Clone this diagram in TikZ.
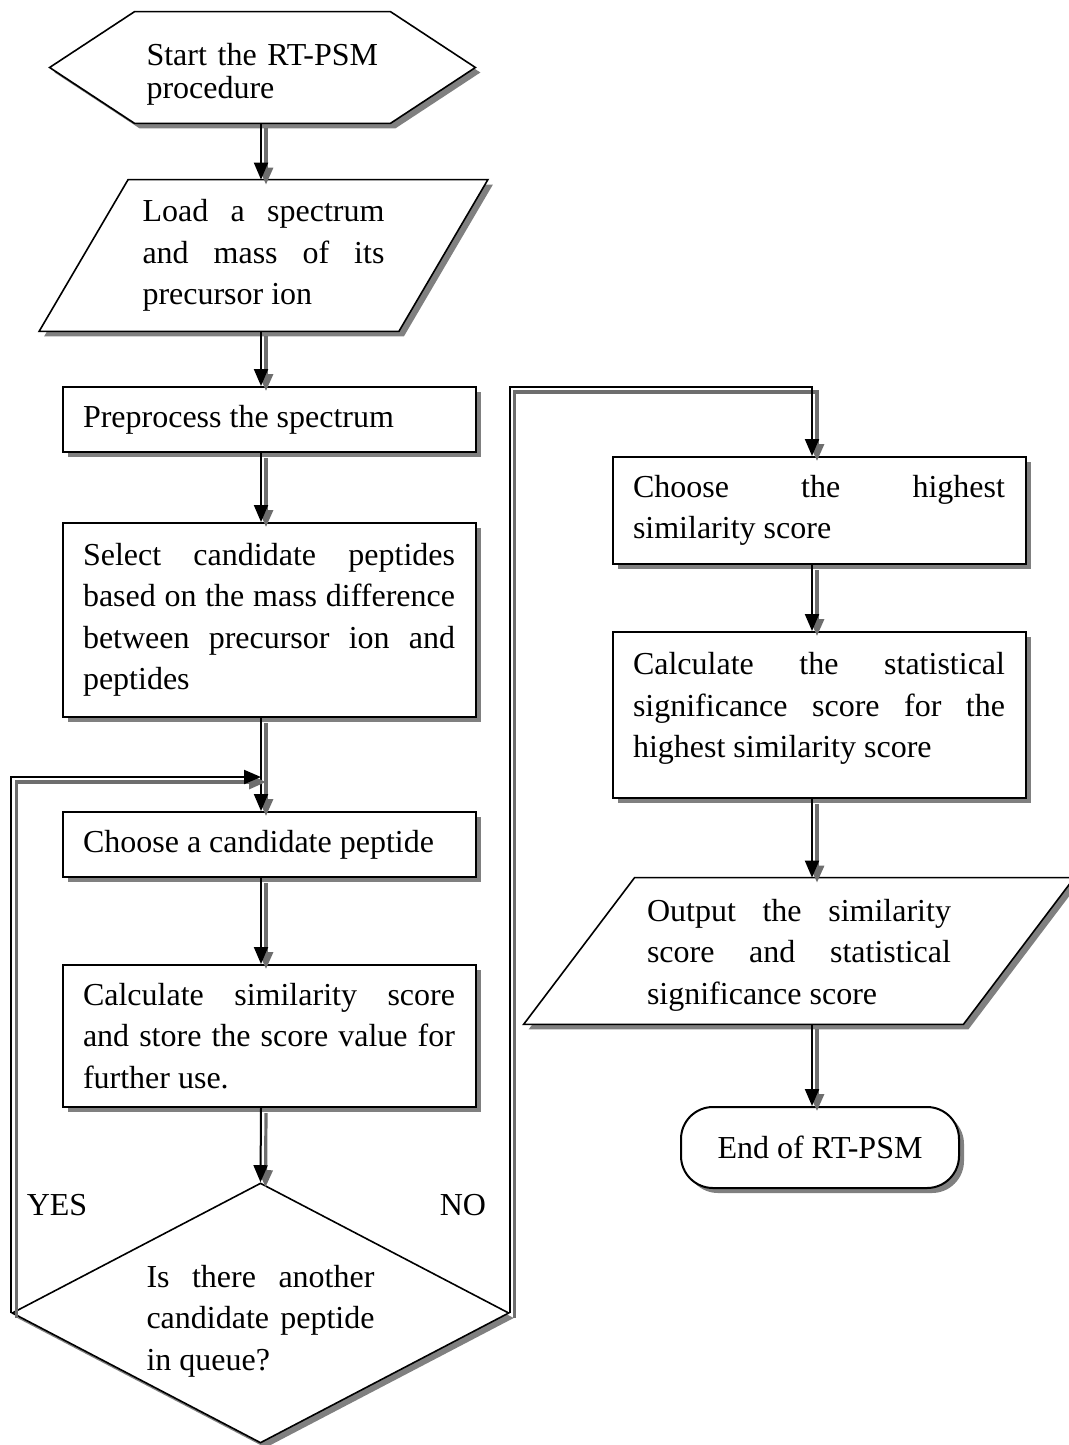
\documentclass[tikz,border=0pt]{standalone}
\usepackage{fontspec}
\setmainfont{Liberation Serif}
\usetikzlibrary{arrows.meta, calc, backgrounds, shadows, shapes.geometric}
\definecolor{flowLine}{HTML}{000000}
\definecolor{flowShade}{HTML}{808080}
\definecolor{flowTrail}{HTML}{6E6E6E}
\hyphenpenalty=10000
\exhyphenpenalty=10000
\tolerance=10000
\hbadness=10000
\tikzset{
  flowfig/.style={
    x=0.5pt, y=-0.5pt,
    every node/.append style={font=\fontsize{16}{20.75}\selectfont},
    >={Triangle[length=8.5pt, width=7pt]},
  },
  boxshadow/.style={drop shadow={shadow xshift=2.5pt, shadow yshift=-2.5pt, fill=flowShade, opacity=1}},
  outline/.style={draw=flowLine, line width=0.8pt, fill=white, boxshadow},
  procbox/.style={outline, line width=1pt, text width=186pt, align=justify,
    inner xsep=10.25pt, inner ysep=0pt},
  iotext/.style={text width=#1, align=justify, inner sep=0pt},
  decision/.style={diamond, outline, aspect=1.9, text width=114pt, align=justify,
    inner sep=0pt, minimum width=248.5pt, minimum height=130pt},
  terminal/.style={outline, line width=1pt, rounded corners=16pt,
    minimum width=139pt, minimum height=40.5pt},
  flow/.style={draw=flowLine, line width=1pt, ->,
    preaction={draw=flowTrail, line width=1.6pt, transform canvas={shift={(2.5pt,-2.5pt)}}}},
  answer/.style={inner sep=0pt},
}
\begin{document}
\begin{tikzpicture}[flowfig]
  \useasboundingbox (0,0) rectangle (1069,1445);
  \coordinate (colL) at (261,0);
  \coordinate (colR) at (812,0);
  \coordinate (loopY) at (0,777);
  \coordinate (loopN) at (0,387);

  % linke Spalte
  \node[iotext=116pt, align=left, minimum width=127.5pt, minimum height=55.5pt,
    font=\fontsize{16}{16.5}\selectfont] (start) at (262.5,67.5)
    {\rule{0pt}{18pt}Start the RT-PSM\\procedure};
  \node[iotext=121pt, minimum width=179.5pt, minimum height=75.5pt] (load) at (263.5,255.5)
    {Load a spectrum\linebreak and mass of its\linebreak precursor ion};
  \node[procbox, minimum height=32.5pt] (prep) at (269,419.5) {Preprocess the spectrum};
  \node[procbox, minimum height=97pt] (select) at (269,620)
    {Select candidate peptides\linebreak based on the mass difference\linebreak
     between precursor ion and\linebreak peptides};
  \node[procbox, minimum height=32.5pt] (choosep) at (269,844.5) {Choose a candidate peptide};
  \node[procbox, minimum height=71pt] (calcsim) at (269,1036)
    {Calculate similarity score\linebreak and store the score value for\linebreak further use.};
  \node[decision] (ask) at (260.5,1313)
    {\rule{0pt}{19pt}Is there another\linebreak candidate peptide\linebreak in queue?};
  \node[answer] (yes) at (57,1205) {YES};
  \node[answer] (no) at (463,1205) {NO};

  % rechte Spalte
  \node[procbox, minimum height=53.5pt] (choosehi) at (819,510.5)
    {Choose the highest\linebreak similarity score};
  \node[procbox, minimum height=83pt] (calcstat) at (819,715)
    {Calculate the statistical\linebreak significance score for the\linebreak
     highest similarity score\rule[-10pt]{0pt}{10pt}};
  \node[iotext=152pt, minimum width=219.5pt, minimum height=73pt] (output) at (799,951)
    {\rule{0pt}{15pt}Output the similarity\linebreak score and statistical\linebreak significance score};
  \node[terminal] (finish) at (820,1147.5) {End of RT-PSM};

  % Umrisse ohne eigene Knotenform
  \begin{scope}[on background layer]
    \draw[outline] (start.north west) -- (start.north east) -- ($(start.east)+(85,0)$)
      -- (start.south east) -- (start.south west) -- ($(start.west)+(-85,0)$) -- cycle;
    \draw[outline] ($(load.north west)+(44.5,0)$) -- ($(load.north east)+(44.5,0)$)
      -- ($(load.south east)+(-44.5,0)$) -- ($(load.south west)+(-44.5,0)$) -- cycle;
    \draw[outline] ($(output.north west)+(55.5,0)$) -- ($(output.north east)+(55.5,0)$)
      -- ($(output.south east)+(-55.5,0)$) -- ($(output.south west)+(-55.5,0)$) -- cycle;
  \end{scope}

  \draw[flow] (start.south -| colL) -- (load.north -| colL);
  \draw[flow] (load.south -| colL) -- (prep.north -| colL);
  \draw[flow] (prep.south -| colL) -- (select.north -| colL);
  \draw[flow] (select.south -| colL) -- (choosep.north -| colL);
  \draw[flow] (choosep.south -| colL) -- (calcsim.north -| colL);
  \draw[flow] (calcsim.south -| colL) -- (ask.north);
  \draw[flow] (ask.west) |- (loopY -| colL);
  \draw[flow] (ask.east) |- (loopN -| colR) -- (choosehi.north -| colR);
  \draw[flow] (choosehi.south -| colR) -- (calcstat.north -| colR);
  \draw[flow] (calcstat.south -| colR) -- (output.north -| colR);
  \draw[flow] (output.south -| colR) -- (finish.north -| colR);
\end{tikzpicture}
\end{document}
